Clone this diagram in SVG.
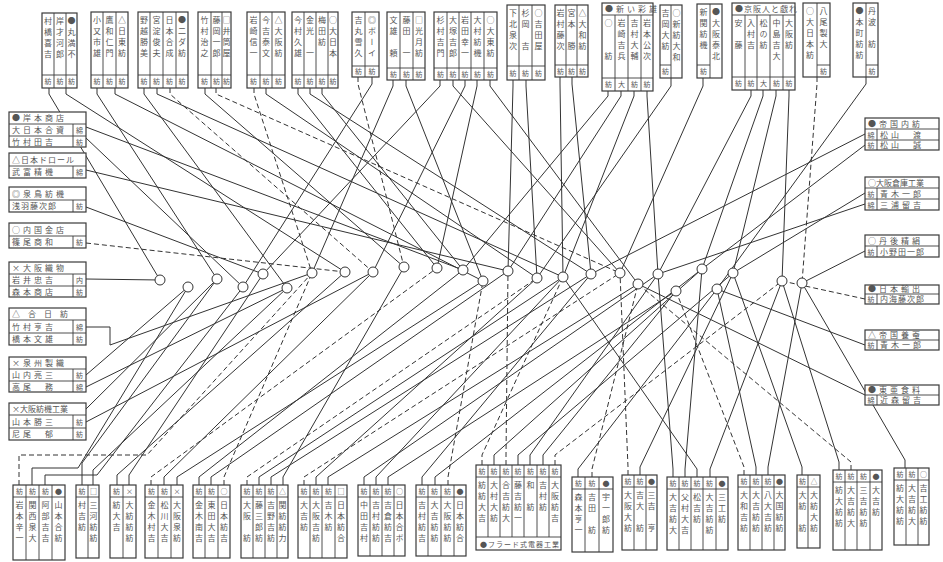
<svg xmlns="http://www.w3.org/2000/svg" width="943" height="562" viewBox="0 0 943 562">
<style>
.bg{fill:#fff}
.bx{fill:#fff;stroke:#3a3a3a;stroke-width:1.2}
.dv{fill:none;stroke:#3a3a3a;stroke-width:0.9}
.v{font-family:"Noto Sans CJK JP","Noto Sans",sans-serif;font-size:8px;writing-mode:vertical-rl;letter-spacing:3px;fill:#555}
.h{font-family:"Noto Sans CJK JP","Noto Sans",sans-serif;font-size:8px;letter-spacing:3px;fill:#555}
.s{font-family:"Noto Sans CJK JP","Noto Sans",sans-serif;font-size:7px;text-anchor:middle;fill:#555}
.c{fill:none;stroke:#333;stroke-width:1}
.d{fill:none;stroke:#333;stroke-width:1;stroke-dasharray:5 3}
.j{fill:#fff;stroke:#333;stroke-width:1}
</style>
<rect class="bg" x="0" y="0" width="943" height="562"/>
<g id="connectors">
<!-- left -->
<path class="c" d="M86 127L463 270"/>
<path class="c" d="M86 138L243 287"/>
<path class="c" d="M86 170L508 271"/>
<path class="c" d="M86 207L263 274"/>
<path class="d" d="M86 243L345 272"/>
<path class="c" d="M86 279L160 280"/>
<path class="c" d="M86 327H110V345L312 273"/>
<path class="c" d="M86 375L188 287"/>
<path class="c" d="M86 387L287 288"/>
<path class="c" d="M86 409L217 279"/>
<path class="c" d="M86 422L373 272"/>
<!-- right -->
<path class="c" d="M865 134L591 274"/>
<path class="c" d="M865 145L702 269"/>
<path class="c" d="M865 193L733 273"/>
<path class="c" d="M865 204L658 274"/>
<path class="c" d="M865 251L802 283"/>
<path class="d" d="M865 299L782 281"/>
<path class="c" d="M865 345L717 289"/>
<path class="c" d="M865 395L638 284"/>
<path class="c" d="M802 283L905 460V468"/>
<!-- top -->
<path class="c" d="M49 88V94L160 280"/>
<path class="c" d="M66 88V94L345 272"/>
<path class="c" d="M97 88V94L217 279"/>
<path class="c" d="M115 88V94L483 281"/>
<path class="c" d="M144 88V94L287 288"/>
<path class="c" d="M157 88V94L563 277"/>
<path class="d" d="M170 88V94L373 272"/>
<path class="c" d="M205 88V94L404 267"/>
<path class="d" d="M216 88V94L620 273"/>
<path class="d" d="M254 88V94L312 273"/>
<path class="c" d="M266 88V94L537 278"/>
<path class="c" d="M298 88V94L437 268"/>
<path class="c" d="M310 88V94L591 274"/>
<path class="c" d="M322 88V94L463 270"/>
<path class="d" d="M358 77V84L404 267"/>
<path class="c" d="M372 77V84L243 287"/>
<path class="c" d="M393 80V86L312 273"/>
<path class="c" d="M406 80V86L483 281"/>
<path class="c" d="M440 80V86L263 274"/>
<path class="c" d="M453 80V86L620 273"/>
<path class="c" d="M465 80V86L373 272"/>
<path class="c" d="M477 80V86L437 268"/>
<path class="c" d="M490 80V86L638 284"/>
<path class="c" d="M513 80V86L508 271"/>
<path class="c" d="M526 80V86L537 278"/>
<path class="c" d="M560 77V84L563 277"/>
<path class="c" d="M572 77V84L591 274"/>
<path class="c" d="M608 91V96L463 270"/>
<path class="c" d="M621 91V96L508 271"/>
<path class="c" d="M634 91V96L563 277"/>
<path class="c" d="M647 91V96L658 274"/>
<path class="c" d="M671 78V86L537 278"/>
<path class="c" d="M703 78V86L620 273"/>
<path class="c" d="M751 90V96L658 274"/>
<path class="c" d="M763 90V96L702 269"/>
<path class="c" d="M776 90V96L733 273"/>
<path class="c" d="M789 90V96L782 281"/>
<path class="d" d="M817 77V84L802 283"/>
<path class="c" d="M866 77V84L717 289"/>
<!-- bottom -->
<path class="d" d="M19 485V455H147L312 273"/>
<path class="c" d="M32 485V468H78L188 287"/>
<path class="c" d="M45 485V475H97L243 287"/>
<path class="c" d="M82 485V463L217 279"/>
<path class="c" d="M93 485V470L287 288"/>
<path class="c" d="M117 485V475L345 272"/>
<path class="c" d="M129 485V475L263 274"/>
<path class="d" d="M151 485V477L437 268"/>
<path class="c" d="M164 485V477L373 272"/>
<path class="c" d="M177 485V477L483 281"/>
<path class="c" d="M199 485V477L463 270"/>
<path class="c" d="M211 485V477L508 271"/>
<path class="d" d="M224 485V477L312 273"/>
<path class="d" d="M247 485V477L537 278"/>
<path class="c" d="M259 485V477L563 277"/>
<path class="c" d="M271 485V477L591 274"/>
<path class="c" d="M283 485V477L404 267"/>
<path class="d" d="M304 485V477L620 273"/>
<path class="c" d="M316 485V477L537 278"/>
<path class="c" d="M328 485V477L638 284"/>
<path class="c" d="M364 485V477L658 274"/>
<path class="c" d="M376 485V477L563 277"/>
<path class="c" d="M388 485V477L676 291"/>
<path class="c" d="M422 485V477L591 274"/>
<path class="c" d="M435 485V477L702 269"/>
<path class="d" d="M448 485V477L483 281"/>
<path class="d" d="M482 465V455L563 277"/>
<path class="c" d="M494 465V455L702 269"/>
<path class="d" d="M506 465V455L508 271"/>
<path class="c" d="M518 465V455L733 273"/>
<path class="c" d="M530 465V455L658 274"/>
<path class="c" d="M543 465V455L676 291"/>
<path class="d" d="M555 465V455L782 281"/>
<path class="c" d="M578 477V469L717 289"/>
<path class="d" d="M592 477V469L638 284"/>
<path class="d" d="M628 475V467L620 273"/>
<path class="c" d="M640 475V467L733 273"/>
<path class="c" d="M673 477V469L658 274"/>
<path class="c" d="M685 477V469L702 269"/>
<path class="c" d="M697 477V469L563 277"/>
<path class="c" d="M710 477V469L782 281"/>
<path class="d" d="M744 475V467L676 291"/>
<path class="c" d="M756 475V467L717 289"/>
<path class="c" d="M768 475V467L802 283"/>
<path class="c" d="M802 475V467L733 273"/>
<path class="c" d="M839 470V462L782 281"/>
<path class="d" d="M851 470V462L638 284"/>
<!-- junctions -->
<circle class="j" cx="160" cy="280" r="5"/>
<circle class="j" cx="188" cy="287" r="5"/>
<circle class="j" cx="217" cy="279" r="5"/>
<circle class="j" cx="243" cy="287" r="5"/>
<circle class="j" cx="263" cy="274" r="5"/>
<circle class="j" cx="287" cy="288" r="5"/>
<circle class="j" cx="312" cy="273" r="5"/>
<circle class="j" cx="345" cy="272" r="5"/>
<circle class="j" cx="373" cy="272" r="5"/>
<circle class="j" cx="404" cy="267" r="5"/>
<circle class="j" cx="437" cy="268" r="5"/>
<circle class="j" cx="463" cy="270" r="5"/>
<circle class="j" cx="483" cy="281" r="5"/>
<circle class="j" cx="508" cy="271" r="5"/>
<circle class="j" cx="537" cy="278" r="5"/>
<circle class="j" cx="563" cy="277" r="5"/>
<circle class="j" cx="591" cy="274" r="5"/>
<circle class="j" cx="620" cy="273" r="5"/>
<circle class="j" cx="638" cy="284" r="5"/>
<circle class="j" cx="658" cy="274" r="5"/>
<circle class="j" cx="676" cy="291" r="5"/>
<circle class="j" cx="702" cy="269" r="5"/>
<circle class="j" cx="717" cy="289" r="5"/>
<circle class="j" cx="733" cy="273" r="5"/>
<circle class="j" cx="782" cy="281" r="5"/>
<circle class="j" cx="802" cy="283" r="5"/>
</g>

<!-- TOP ROW -->
<g id="t1"><rect class="bx" x="42" y="13" width="35" height="75"/><path class="dv" d="M54 13V88M66 13V88M42 75H77"/>
<text class="v" x="48" y="17">村橋喜吉</text><text class="v" x="60" y="17">岸才河郎</text><text class="v" x="71.5" y="17">●丸満不</text>
<text class="s" x="48" y="84">紡</text><text class="s" x="60" y="84">紡</text><text class="s" x="71.5" y="84">紡</text></g>
<g id="t2"><rect class="bx" x="91" y="12" width="37" height="76"/><path class="dv" d="M103 12V88M116 12V88M91 75H128"/>
<text class="v" x="97" y="16">小又市雄</text><text class="v" x="109.5" y="16">鷹和仁門</text><text class="v" x="122" y="16">△日東紡</text>
<text class="s" x="97" y="84">紡</text><text class="s" x="109.5" y="84">紡</text><text class="s" x="122" y="84">紡</text></g>
<g id="t3"><rect class="bx" x="138" y="12" width="50" height="76"/><path class="dv" d="M150 12V88M163 12V88M176 12V88M138 75H188"/>
<text class="v" x="144" y="16">野越勝美</text><text class="v" x="156.5" y="16">宮淀俊夫</text><text class="v" x="169.5" y="16">日本合成</text><text class="v" x="182" y="16">●二ダ紡</text>
<text class="s" x="144" y="84">紡</text><text class="s" x="156.5" y="84">紡</text><text class="s" x="169.5" y="84">紡</text><text class="s" x="182" y="84">紡</text></g>
<g id="t4"><rect class="bx" x="198" y="12" width="33" height="76"/><path class="dv" d="M211 12V88M222 12V88M198 75H231"/>
<text class="v" x="204.5" y="16">竹村治之</text><text class="v" x="216.5" y="16">藤岡一郎</text><text class="v" x="226.5" y="16">□井筒屋</text>
<text class="s" x="204.5" y="84">紡</text><text class="s" x="216.5" y="84">紡</text><text class="s" x="226.5" y="84">紡</text></g>
<g id="t5"><rect class="bx" x="247" y="12" width="38" height="76"/><path class="dv" d="M260 12V88M272 12V88M247 75H285"/>
<text class="v" x="253.5" y="16">岩崎信一</text><text class="v" x="266" y="16">今吉泰文</text><text class="v" x="278.5" y="16">△大阪紡</text>
<text class="s" x="253.5" y="84">紡</text><text class="s" x="266" y="84">紡</text><text class="s" x="278.5" y="84">紡</text></g>
<g id="t6"><rect class="bx" x="292" y="12" width="46" height="76"/><path class="dv" d="M304 12V88M316 12V88M328 12V88M292 75H338"/>
<text class="v" x="298" y="16">今村久雄</text><text class="v" x="310" y="16">金光　一</text><text class="v" x="322" y="16">梅田紡</text><text class="v" x="333" y="16">○大日本</text>
<text class="s" x="298" y="84">紡</text><text class="s" x="310" y="84">紡</text><text class="s" x="322" y="84">紡</text><text class="s" x="333" y="84">紡</text></g>
<g id="t7"><rect class="bx" x="352" y="12" width="27" height="65"/><path class="dv" d="M365 12V77M352 66H379"/>
<text class="v" x="358.5" y="16">吉丸雪久</text><text class="v" x="372" y="16">◎ボーイ</text>
<text class="s" x="358.5" y="74">紡</text><text class="s" x="372" y="74">紡</text></g>
<g id="t8"><rect class="bx" x="387" y="12" width="38" height="68"/><path class="dv" d="M400 12V80M413 12V80M387 68H425"/>
<text class="v" x="393.5" y="16">文雄　頼</text><text class="v" x="406.5" y="16">藤田　一</text><text class="v" x="419" y="16">□光月紡</text>
<text class="s" x="393.5" y="77">紡</text><text class="s" x="406.5" y="77">紡</text><text class="s" x="419" y="77">紡</text></g>
<g id="t9"><rect class="bx" x="434" y="12" width="63" height="68"/><path class="dv" d="M447 12V80M459 12V80M471 12V80M484 12V80M434 68H497"/>
<text class="v" x="440.5" y="16">杉村吉門</text><text class="v" x="453" y="16">大塚吉郎</text><text class="v" x="465" y="16">岩田幸一</text><text class="v" x="477.5" y="16">大村紡機</text><text class="v" x="490.5" y="16">○大東紡</text>
<text class="s" x="440.5" y="77">紡</text><text class="s" x="453" y="77">紡</text><text class="s" x="465" y="77">紡</text><text class="s" x="477.5" y="77">紡</text><text class="s" x="490.5" y="77">紡</text></g>
<g id="t10"><rect class="bx" x="507" y="5" width="38" height="75"/><path class="dv" d="M519 5V80M532 5V80M507 66H545"/>
<text class="v" x="513" y="9">下北泉次</text><text class="v" x="525.5" y="9">杉岡　吉</text><text class="v" x="538.5" y="9">○吉田屋</text>
<text class="s" x="513" y="76">紡</text><text class="s" x="525.5" y="76">紡</text><text class="s" x="538.5" y="76">紡</text></g>
<g id="t11"><rect class="bx" x="555" y="5" width="33" height="72"/><path class="dv" d="M566 5V77M577 5V77M555 65H588"/>
<text class="v" x="560.5" y="9">岩村藤次</text><text class="v" x="571.5" y="9">宮本　勝</text><text class="v" x="582.5" y="9">△大和紡</text>
<text class="s" x="560.5" y="74">紡</text><text class="s" x="571.5" y="74">紡</text><text class="s" x="582.5" y="74">紡</text></g>
<g id="t12"><rect class="bx" x="602" y="3" width="51" height="88"/><path class="dv" d="M602 15H653M615 15V91M628 15V91M641 15V91M602 78H653"/>
<text class="h" x="605" y="12">●新い彩雄</text>
<text class="v" x="608.5" y="19">○　　紡</text><text class="v" x="621.5" y="19">岩崎吉兵</text><text class="v" x="634.5" y="19">吉村大輔</text><text class="v" x="647" y="19">岩本公次</text>
<text class="s" x="608.5" y="87">紡</text><text class="s" x="621.5" y="87">大</text><text class="s" x="634.5" y="87">紡</text><text class="s" x="647" y="87">紡</text></g>
<g id="t13"><rect class="bx" x="660" y="5" width="22" height="73"/><path class="dv" d="M671 5V78M660 65H671"/>
<text class="v" x="665.5" y="9">吉岡大紡</text><text class="v" x="676.5" y="9">○新紡大和</text>
<text class="s" x="665.5" y="74">紡</text></g>
<g id="t14"><rect class="bx" x="697" y="4" width="25" height="74"/><path class="dv" d="M710 4V78M697 65H710"/>
<text class="v" x="703.5" y="8">新関紡機</text><text class="v" x="716" y="8">●大阪泰北</text>
<text class="s" x="703.5" y="74">紡</text></g>
<g id="t15"><rect class="bx" x="732" y="3" width="63" height="87"/><path class="dv" d="M732 15H795M745 15V90M757 15V90M770 15V90M783 15V90M732 77H795"/>
<text class="h" x="735" y="12" style="letter-spacing:1px">●京阪人と戯れ</text>
<text class="v" x="738.5" y="19">安　藤</text><text class="v" x="751" y="19">入村吉</text><text class="v" x="763.5" y="19">松の紡</text><text class="v" x="776.5" y="19">中島吉大</text><text class="v" x="789" y="19">大阪紡</text>
<text class="s" x="738.5" y="86">紡</text><text class="s" x="751" y="86">紡</text><text class="s" x="763.5" y="86">大</text><text class="s" x="776.5" y="86">紡</text><text class="s" x="789" y="86">紡</text></g>
<g id="t16"><rect class="bx" x="803" y="3" width="27" height="74"/><path class="dv" d="M817 3V77M817 65H830"/>
<text class="v" x="810" y="7">○大日本紡</text><text class="v" x="823.5" y="7">八尾製大</text>
<text class="s" x="823.5" y="74">紡</text></g>
<g id="t17"><rect class="bx" x="853" y="3" width="25" height="74"/><path class="dv" d="M866 3V77M866 65H878"/>
<text class="v" x="859.5" y="7">●本町紡紡</text><text class="v" x="872" y="7">丹波　紡</text>
<text class="s" x="872" y="74">紡</text></g>

<!-- LEFT COLUMN -->
<g id="l1"><rect class="bx" x="9" y="112" width="77" height="35"/><path class="dv" d="M9 124H86M9 136H86M73 124V147"/>
<text class="h" x="12" y="121">●岸本商店</text><text class="h" x="12" y="133">大日本合資</text><text class="s" x="79.5" y="133">綿</text><text class="h" x="12" y="145">竹村田吉</text><text class="s" x="79.5" y="145">紡</text></g>
<g id="l2"><rect class="bx" x="9" y="153" width="77" height="25"/><path class="dv" d="M9 166H86M73 166V178"/>
<text class="h" x="12" y="163" style="letter-spacing:1px">△日本ドロール</text><text class="h" x="12" y="175">武富精機</text><text class="s" x="79.5" y="175">綿</text></g>
<g id="l3"><rect class="bx" x="9" y="187" width="77" height="25"/><path class="dv" d="M9 200H86M73 200V212"/>
<text class="h" x="12" y="197">◎泉鳥紡機</text><text class="h" x="12" y="209" style="letter-spacing:1px">浅羽藤次郎</text><text class="s" x="79.5" y="209">紡</text></g>
<g id="l4"><rect class="bx" x="9" y="223" width="77" height="25"/><path class="dv" d="M9 236H86M73 236V248"/>
<text class="h" x="12" y="233">○内国金店</text><text class="h" x="12" y="245">篠尾商和</text><text class="s" x="79.5" y="245">紡</text></g>
<g id="l5"><rect class="bx" x="9" y="262" width="77" height="35"/><path class="dv" d="M9 274H86M9 286H86M73 274V297"/>
<text class="h" x="12" y="271">×大阪織物</text><text class="h" x="12" y="283">岩井忠吉</text><text class="s" x="79.5" y="283">内</text><text class="h" x="12" y="295">森本商店</text><text class="s" x="79.5" y="295">紡</text></g>
<g id="l6"><rect class="bx" x="9" y="308" width="77" height="37"/><path class="dv" d="M9 320H86M9 333H86M73 320V345"/>
<text class="h" x="12" y="317" style="letter-spacing:8px">△合日紡</text><text class="h" x="12" y="330">竹村亨吉</text><text class="s" x="79.5" y="330">綿</text><text class="h" x="12" y="342">橋本文雄</text><text class="s" x="79.5" y="342">紡</text></g>
<g id="l7"><rect class="bx" x="9" y="357" width="77" height="35"/><path class="dv" d="M9 369H86M9 381H86M73 369V392"/>
<text class="h" x="12" y="366">×泉州製織</text><text class="h" x="12" y="378">山内亮三</text><text class="s" x="79.5" y="378">紡</text><text class="h" x="12" y="390">高尾　務</text><text class="s" x="79.5" y="390">綿</text></g>
<g id="l8"><rect class="bx" x="9" y="403" width="77" height="37"/><path class="dv" d="M9 415H86M9 428H86M73 415V440"/>
<text class="h" x="12" y="412" style="letter-spacing:0px">×大阪紡機工業</text><text class="h" x="12" y="425">山本勝三</text><text class="s" x="79.5" y="425">紡</text><text class="h" x="12" y="437">尼尾　郁</text><text class="s" x="79.5" y="437">紡</text></g>

<!-- RIGHT COLUMN -->
<g id="r1"><rect class="bx" x="865" y="118" width="74" height="32"/><path class="dv" d="M865 129H939M865 140H939M877 129V150"/>
<text class="h" x="868" y="127">●帝国内紡</text><text class="s" x="871" y="138">綿</text><text class="h" x="880" y="138">松山　渡</text><text class="s" x="871" y="148">紡</text><text class="h" x="880" y="148">松山　誠</text></g>
<g id="r2"><rect class="bx" x="865" y="177" width="74" height="33"/><path class="dv" d="M865 188H939M865 199H939M877 188V210"/>
<text class="h" x="868" y="186" style="letter-spacing:0px">○大阪倉庫工業</text><text class="s" x="871" y="197">紡</text><text class="h" x="880" y="197">青木一郎</text><text class="s" x="871" y="208">綿</text><text class="h" x="880" y="208">三浦留吉</text></g>
<g id="r3"><rect class="bx" x="865" y="235" width="74" height="22"/><path class="dv" d="M865 246H939M877 246V257"/>
<text class="h" x="868" y="244">○丹後精絹</text><text class="s" x="871" y="255">紡</text><text class="h" x="880" y="255" style="letter-spacing:1px">小野田一郎</text></g>
<g id="r4"><rect class="bx" x="865" y="285" width="74" height="19"/><path class="dv" d="M865 294H939M877 294V304"/>
<text class="h" x="868" y="292">●日本輸出</text><text class="s" x="871" y="302">紡</text><text class="h" x="880" y="302" style="letter-spacing:1px">内海藤次郎</text></g>
<g id="r5"><rect class="bx" x="865" y="330" width="74" height="20"/><path class="dv" d="M865 340H939M877 340V350"/>
<text class="h" x="868" y="338">△帝国養蚕</text><text class="s" x="871" y="348">紡</text><text class="h" x="880" y="348">青木一郎</text></g>
<g id="r6"><rect class="bx" x="865" y="385" width="74" height="20"/><path class="dv" d="M865 395H939M877 395V405"/>
<text class="h" x="868" y="393">●東亜食料</text><text class="s" x="871" y="403">綿</text><text class="h" x="880" y="403">近森留吉</text></g>

<!-- BOTTOM ROW -->
<g id="b1"><rect class="bx" x="13" y="485" width="52" height="75"/><path class="dv" d="M26 485V560M39 485V560M52 485V560M13 497H65"/>
<text class="s" x="19.5" y="494">紡</text><text class="s" x="32.5" y="494">紡</text><text class="s" x="45.5" y="494">紡</text><text class="s" x="58.5" y="494">●</text>
<text class="v" x="19.5" y="501">岩本辛一</text><text class="v" x="32.5" y="501">関西泉大</text><text class="v" x="45.5" y="501">阿部吉吉</text><text class="v" x="58.5" y="501">山本合紡</text></g>
<g id="b2"><rect class="bx" x="76" y="485" width="23" height="73"/><path class="dv" d="M88 485V558M76 497H99"/>
<text class="s" x="82" y="494">紡</text><text class="s" x="93.5" y="494">□</text>
<text class="v" x="82" y="501">村吉紡</text><text class="v" x="93.5" y="501">三河紡紡</text></g>
<g id="b3"><rect class="bx" x="110" y="485" width="26" height="73"/><path class="dv" d="M123 485V558M110 497H136"/>
<text class="s" x="116.5" y="494">紡</text><text class="s" x="129.5" y="494">×</text>
<text class="v" x="116.5" y="501">紡大吉</text><text class="v" x="129.5" y="501">大紡紡紡</text></g>
<g id="b4"><rect class="bx" x="145" y="485" width="38" height="73"/><path class="dv" d="M158 485V558M171 485V558M145 497H183"/>
<text class="s" x="151.5" y="494">紡</text><text class="s" x="164.5" y="494">紡</text><text class="s" x="177" y="494">×</text>
<text class="v" x="151.5" y="501">金木村吉</text><text class="v" x="164.5" y="501">松川大吉</text><text class="v" x="177" y="501">大阪泉紡</text></g>
<g id="b5"><rect class="bx" x="193" y="485" width="37" height="73"/><path class="dv" d="M205 485V558M218 485V558M193 497H230"/>
<text class="s" x="199" y="494">紡</text><text class="s" x="211.5" y="494">紡</text><text class="s" x="224" y="494">○</text>
<text class="v" x="199" y="501">金木南吉</text><text class="v" x="211.5" y="501">東田大吉</text><text class="v" x="224" y="501">日本紡吉</text></g>
<g id="b6"><rect class="bx" x="241" y="485" width="47" height="73"/><path class="dv" d="M253 485V558M265 485V558M277 485V558M241 497H288"/>
<text class="s" x="247" y="494">紡</text><text class="s" x="259" y="494">紡</text><text class="s" x="271" y="494">紡</text><text class="s" x="282.5" y="494">△</text>
<text class="v" x="247" y="501">大阪　紡</text><text class="v" x="259" y="501">藤三郎紡</text><text class="v" x="271" y="501">吉野吉紡</text><text class="v" x="282.5" y="501">関紡紡力</text></g>
<g id="b7"><rect class="bx" x="298" y="485" width="49" height="73"/><path class="dv" d="M310 485V558M322 485V558M335 485V558M298 497H347"/>
<text class="s" x="304" y="494">紡</text><text class="s" x="316" y="494">紡</text><text class="s" x="328.5" y="494">紡</text><text class="s" x="341" y="494">□</text>
<text class="v" x="304" y="501">大吉紡</text><text class="v" x="316" y="501">大阪吉紡</text><text class="v" x="328.5" y="501">吉木紡</text><text class="v" x="341" y="501">日本紡合</text></g>
<g id="b8"><rect class="bx" x="358" y="485" width="47" height="71"/><path class="dv" d="M370 485V556M382 485V556M394 485V556M358 497H405"/>
<text class="s" x="364" y="494">紡</text><text class="s" x="376" y="494">紡</text><text class="s" x="388" y="494">紡</text><text class="s" x="399.5" y="494">○</text>
<text class="v" x="364" y="501">中田吉村</text><text class="v" x="376" y="501">吉村紡紡</text><text class="v" x="388" y="501">吉倉紡吉</text><text class="v" x="399.5" y="501">日本合ボ</text></g>
<g id="b9"><rect class="bx" x="416" y="485" width="50" height="71"/><path class="dv" d="M428 485V556M441 485V556M454 485V556M416 497H466"/>
<text class="s" x="422" y="494">紡</text><text class="s" x="434.5" y="494">紡</text><text class="s" x="447.5" y="494">紡</text><text class="s" x="460" y="494">●</text>
<text class="v" x="422" y="501">吉村紡吉</text><text class="v" x="434.5" y="501">大吉紡紡</text><text class="v" x="447.5" y="501">大阪紡紡</text><text class="v" x="460" y="501">日本紡合</text></g>
<g id="b10"><rect class="bx" x="476" y="465" width="85" height="85"/><path class="dv" d="M488 465V537M500 465V537M512 465V537M524 465V537M537 465V537M549 465V537M476 477H561M476 537H561"/>
<text class="s" x="482" y="474">紡</text><text class="s" x="494" y="474">紡</text><text class="s" x="506" y="474">紡</text><text class="s" x="518" y="474">紡</text><text class="s" x="530.5" y="474">紡</text><text class="s" x="543" y="474">紡</text><text class="s" x="555" y="474">紡</text>
<text class="v" x="482" y="481">紡紡大吉</text><text class="v" x="494" y="481">大村大紡</text><text class="v" x="506" y="481">合吉紡大</text><text class="v" x="518" y="481">藤吉紡一</text><text class="v" x="530.5" y="481">和　紡</text><text class="v" x="543" y="481">吉村紡</text><text class="v" x="555" y="481">大阪紡吉</text>
<text class="h" x="480" y="547" style="font-size:7px;letter-spacing:1px">●フラード式電器工業</text></g>
<g id="b11"><rect class="bx" x="572" y="477" width="41" height="75"/><path class="dv" d="M585 477V552M599 477V552M572 489H613"/>
<text class="s" x="578.5" y="486">紡</text><text class="s" x="592" y="486">紡</text><text class="s" x="606" y="486">●</text>
<text class="v" x="578.5" y="493">森本亨一</text><text class="v" x="592" y="493">吉田　紡</text><text class="v" x="606" y="493">宇一郎紡</text></g>
<g id="b12"><rect class="bx" x="622" y="475" width="35" height="75"/><path class="dv" d="M634 475V550M646 475V550M622 487H657"/>
<text class="s" x="628" y="484">紡</text><text class="s" x="640" y="484">紡</text><text class="s" x="651.5" y="484">●</text>
<text class="v" x="628" y="491">大阪大紡</text><text class="v" x="640" y="491">吉大　紡</text><text class="v" x="651.5" y="491">三吉　亨</text></g>
<g id="b13"><rect class="bx" x="667" y="477" width="61" height="73"/><path class="dv" d="M679 477V550M691 477V550M703 477V550M716 477V550M667 489H728"/>
<text class="s" x="673" y="486">紡</text><text class="s" x="685" y="486">紡</text><text class="s" x="697" y="486">紡</text><text class="s" x="709.5" y="486">紡</text><text class="s" x="722" y="486">●</text>
<text class="v" x="673" y="493">大吉紡大</text><text class="v" x="685" y="493">父村大吉</text><text class="v" x="697" y="493">松吉紡</text><text class="v" x="709.5" y="493">大吉紡紡</text><text class="v" x="722" y="493">三工紡</text></g>
<g id="b14"><rect class="bx" x="738" y="475" width="47" height="75"/><path class="dv" d="M750 475V550M762 475V550M774 475V550M738 487H785"/>
<text class="s" x="744" y="484">紡</text><text class="s" x="756" y="484">紡</text><text class="s" x="768" y="484">紡</text><text class="s" x="779.5" y="484">●</text>
<text class="v" x="744" y="491">大和吉紡</text><text class="v" x="756" y="491">大吉紡紡</text><text class="v" x="768" y="491">八大吉紡</text><text class="v" x="779.5" y="491">大国紡紡</text></g>
<g id="b15"><rect class="bx" x="797" y="475" width="23" height="73"/><path class="dv" d="M808 475V548M797 487H820"/>
<text class="s" x="802.5" y="484">紡</text><text class="s" x="814" y="484">△</text>
<text class="v" x="802.5" y="491">大紡　紡</text><text class="v" x="814" y="491">大紡大紡</text></g>
<g id="b16"><rect class="bx" x="833" y="470" width="49" height="80"/><path class="dv" d="M845 470V550M857 470V550M870 470V550M833 482H882"/>
<text class="s" x="839" y="479">紡</text><text class="s" x="851" y="479">紡</text><text class="s" x="863.5" y="479">紡</text><text class="s" x="876" y="479">●</text>
<text class="v" x="839" y="486">紡大紡紡</text><text class="v" x="851" y="486">大吉紡大</text><text class="v" x="863.5" y="486">三吉紡紡</text><text class="v" x="876" y="486">大吉紡</text></g>
<g id="b17"><rect class="bx" x="894" y="468" width="35" height="77"/><path class="dv" d="M906 468V545M918 468V545M894 480H929"/>
<text class="s" x="900" y="477">紡</text><text class="s" x="912" y="477">紡</text><text class="s" x="923.5" y="477">○</text>
<text class="v" x="900" y="484">紡大紡紡</text><text class="v" x="912" y="484">大吉紡大</text><text class="v" x="923.5" y="484">吉工紡紡</text></g>
</svg>
